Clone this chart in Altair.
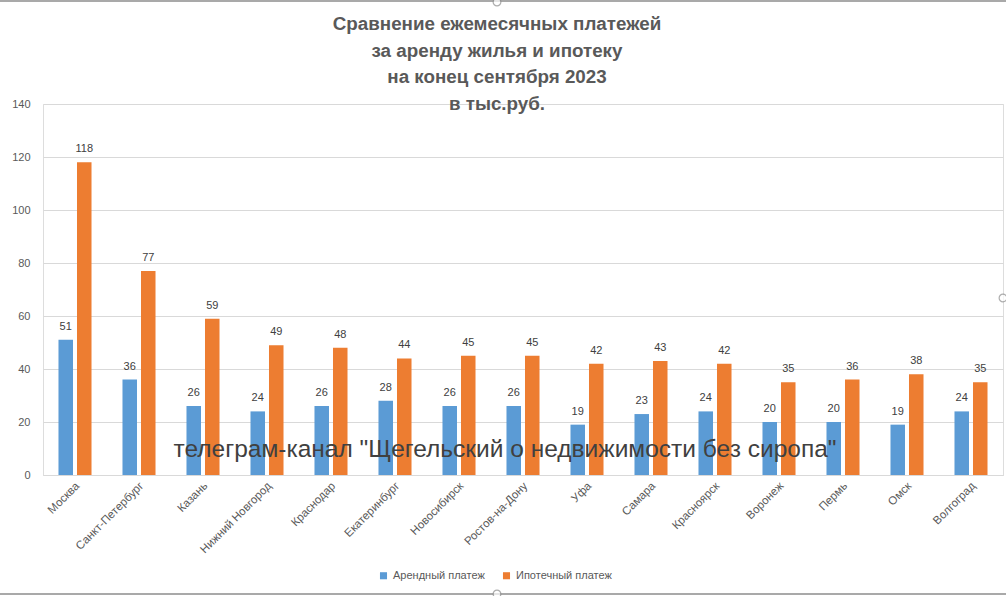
import altair as alt
import pandas as pd

# Monthly payments, thousand roubles, end of September 2023
cities = ["Москва", "Санкт-Петербург", "Казань", "Нижний Новгород", "Краснодар",
          "Екатеринбург", "Новосибирск", "Ростов-на-Дону", "Уфа", "Самара",
          "Красноярск", "Воронеж", "Пермь", "Омск", "Волгоград"]
rent = [51, 36, 26, 24, 26, 28, 26, 26, 19, 23, 24, 20, 20, 19, 24]
mortgage = [118, 77, 59, 49, 48, 44, 45, 45, 42, 43, 42, 35, 36, 38, 35]
series = ["Арендный платеж", "Ипотечный платеж"]
colors = ["#5b9bd5", "#ed7d31"]
y_ticks = [0, 20, 40, 60, 80, 100, 120, 140]
title_lines = ["Сравнение ежемесячных платежей", "за аренду жилья и ипотеку",
               "на конец сентября 2023", "в тыс.руб."]
watermark_text = 'телеграм-канал "Щегельский о недвижимости без сиропа"'

rows = []
for c, r, m in zip(cities, rent, mortgage):
    rows.append({"city": c, "series": series[0], "value": r})
    rows.append({"city": c, "series": series[1], "value": m})
df = pd.DataFrame(rows)

W, H = 960, 371
GREY = "#595959"
FONT = "Liberation Sans"

x_enc = alt.X("city:N", sort=cities,
              scale=alt.Scale(domain=cities, paddingInner=0.484, paddingOuter=0.242),
              axis=alt.Axis(title=None, labelAngle=-45, labelAlign="right", labelBaseline="middle",
                            labelPadding=9, labelOffset=3, ticks=False, domain=True,
                            domainColor="#d9d9d9", labelColor=GREY, labelFontSize=11.5,
                            labelFont=FONT, grid=False))
xo_enc = alt.XOffset("series:N", sort=series,
                     scale=alt.Scale(domain=series, paddingInner=0.216, paddingOuter=0))
y_enc = alt.Y("value:Q", scale=alt.Scale(domain=[0, 140], nice=False),
              axis=alt.Axis(title=None, values=y_ticks, domain=False, ticks=False,
                            labelColor=GREY, labelFontSize=11, labelFont=FONT, labelPadding=13,
                            gridColor="#d9d9d9", gridWidth=1))

bars = alt.Chart(df).mark_bar().encode(
    x=x_enc, xOffset=xo_enc, y=y_enc,
    color=alt.Color("series:N", sort=series,
                    scale=alt.Scale(domain=series, range=colors),
                    legend=alt.Legend(title=None, orient="none", direction="horizontal",
                                      legendX=335, legendY=466, symbolType="square",
                                      symbolSize=50, labelFontSize=11, labelFont=FONT,
                                      labelColor=GREY, columnPadding=16, symbolStrokeWidth=0)),
)

labels = alt.Chart(df).mark_text(dy=-10, fontSize=11, font=FONT, color="#404040",
                                 baseline="alphabetic").encode(
    x=alt.X("city:N", sort=cities), xOffset=alt.XOffset("series:N", sort=series),
    y="value:Q", text="value:Q")

watermark = alt.Chart(pd.DataFrame({"t": [watermark_text]})).mark_text(
    fontSize=24.5, font=FONT, color="#404040", align="center", baseline="middle"
).encode(x=alt.value(462), y=alt.value(346), text="t:N")

# four-line heading centred above the plot
heading = alt.Chart(pd.DataFrame({"i": [0]})).mark_text(
    text=title_lines, lineHeight=26.5, fontSize=18.8, fontWeight="bold", font=FONT,
    color=GREY, align="center", baseline="middle"
).encode(x=alt.value(454), y=alt.value(-80))

# frame lines and selection handles around the chart object
edges = pd.DataFrame({"y": [-103, 490]})
frame = alt.Chart(edges).mark_rule(color="#8c8c8c", strokeWidth=1.5).encode(
    x=alt.value(-43), x2=alt.value(963), y=alt.Y("y:Q", scale=None))
handles = pd.DataFrame({"x": [454, 454, 960], "y": [-102, 490, 194]})
knobs = alt.Chart(handles).mark_point(shape="circle", size=60, filled=True, fill="white",
                                      stroke="#8c8c8c", strokeWidth=1.2).encode(
    x=alt.X("x:Q", scale=None), y=alt.Y("y:Q", scale=None))

chart = alt.layer(bars, labels, watermark, heading, frame, knobs).properties(
    width=W, height=H,
    autosize=alt.AutoSizeParams(type="none"),
    padding={"left": 43, "top": 104, "right": 3, "bottom": 121},
).configure_view(stroke=None).configure(background="white")

chart.save("out.html", embed_options={"renderer": "svg", "actions": False})
